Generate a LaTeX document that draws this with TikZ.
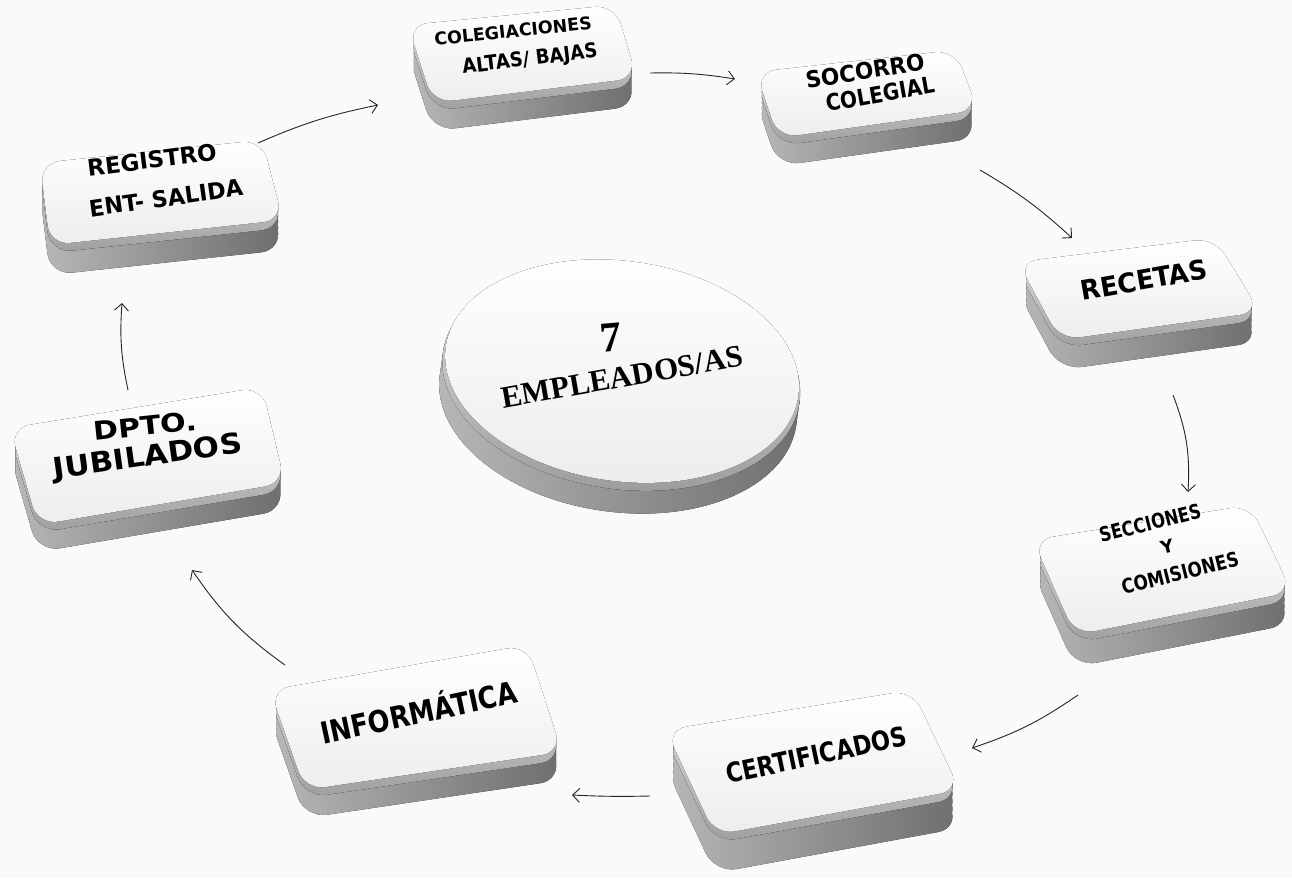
\documentclass[tikz,border=0pt]{standalone}
\usepackage{fontspec}
\usepackage{graphicx}
\usetikzlibrary{calc,arrows.meta}
\newfontfamily\kfont{DejaVu Sans}
\newfontfamily\efont{Liberation Serif}
\tikzset{
  sideshade/.style={left color=black!28, middle color=black!60, right color=black!57},
  rimshade/.style={top color=black!10, bottom color=black!38},
  faceshade/.style={top color=white, bottom color=black!7},
  klabel/.style={inner sep=0pt, text=black},
  arr/.style={-{Straight Barb[length=7pt,width=14pt]}, line width=0.9pt, black!85},
}
\newcommand\kt[3]{\resizebox{#1pt}{#2pt}{\kfont\bfseries #3}}
\newcommand\kface[1]{($(kTL)+(0,#1)$) -- ($(kTR)+(0,#1)$) -- ($(kBR)+(0,#1)$) -- ($(kBL)+(0,#1)$) -- cycle}
\newcommand\keybox[5]{%
  \coordinate (kTL) at (#1); \coordinate (kTR) at (#2);
  \coordinate (kBR) at (#3); \coordinate (kBL) at (#4);
  \fill[sideshade, rounded corners=22pt]
    \kface{#5} \kface{0.8*#5} \kface{0.6*#5} \kface{0.4*#5} \kface{0.2*#5};
  \fill[rimshade, rounded corners=22pt] \kface{8};
  \fill[faceshade, rounded corners=20pt] \kface{0};
}
\begin{document}
\begin{tikzpicture}[x=1pt,y=-1pt]
\useasboundingbox (0,0) rectangle (1292,878);
\fill[black!2] (0,0) rectangle (1292,878);

% central disc
\begin{scope}[rotate around={-8:(620,386)}]
  \fill[sideshade] (620,400) ellipse [x radius=180pt, y radius=112pt]
                   (620,393) ellipse [x radius=180pt, y radius=112pt]
                   (620,386) ellipse [x radius=180pt, y radius=112pt]
                   (620,379) ellipse [x radius=180pt, y radius=112pt];
  \fill[rimshade] (620,377) ellipse [x radius=180pt, y radius=112pt];
  \fill[faceshade] (620,371) ellipse [x radius=178pt, y radius=110pt];
\end{scope}

% key boxes
\keybox{40,163}{262,140}{283,220}{50,245}{30}
\keybox{408,25}{615,5}{637,78}{433,103}{28}
\keybox{756,72}{955,50}{978,110}{778,138}{28}
\keybox{1018,262}{1215,238}{1260,312}{1060,340}{30}
\keybox{1033,540}{1250,505}{1292,592}{1075,635}{32}
\keybox{666,730}{912,690}{960,790}{715,835}{38}
\keybox{270,690}{527,645}{562,752}{305,790}{28}
\keybox{10,428}{262,387}{285,483}{38,525}{27}

% labels
\node[klabel, rotate=7]  (t1a) at (152,160) {\kt{130}{17}{REGISTRO}};
\node[klabel, rotate=8]  (t1b) at (166,198) {\kt{155}{17}{ENT- SALIDA}};
\node[klabel, rotate=6]  (t2a) at (513,31)  {\kt{158}{13}{COLEGIACIONES}};
\node[klabel, rotate=7]  (t2b) at (530,60)  {\kt{136}{15}{ALTAS/ BAJAS}};
\node[klabel, rotate=9]  (t3a) at (865,71)  {\kt{120}{17}{SOCORRO}};
\node[klabel, rotate=10] (t3b) at (880,94)  {\kt{110}{17}{COLEGIAL}};
\node[klabel, rotate=10] (t4)  at (1144,280) {\kt{128}{20}{RECETAS}};
\node[klabel, rotate=14] (t5a) at (1150,523) {\kt{104}{15}{SECCIONES}};
\node[klabel, rotate=14] (t5b) at (1167,547) {\kt{13}{13}{Y}};
\node[klabel, rotate=14] (t5c) at (1180,573) {\kt{120}{15}{COMISIONES}};
\node[klabel, rotate=12] (t6)  at (816,755) {\kt{184}{20}{CERTIFICADOS}};
\node[klabel, rotate=12] (t7)  at (418,710) {\kt{200}{28}{INFORMÁTICA}};
\node[klabel, rotate=6]  (t8a) at (145,426) {\kt{104}{19}{DPTO.}};
\node[klabel, rotate=8]  (t8b) at (148,458) {\kt{190}{21}{JUBILADOS}};
\node[klabel, rotate=5]  (c7)  at (611,338) {\resizebox{!}{28pt}{\efont\bfseries 7}};
\node[klabel, rotate=10] (cE)  at (622,377) {\resizebox{245pt}{!}{\efont\bfseries EMPLEADOS/AS}};

% connectors
\coordinate (a1s) at (258,143); \coordinate (a1e) at (378,105);
\coordinate (a2s) at (650,73);  \coordinate (a2e) at (735,79);
\coordinate (a3s) at (980,170); \coordinate (a3e) at (1072,238);
\coordinate (a4s) at (1173,395); \coordinate (a4e) at (1188,492);
\coordinate (a5s) at (1078,695); \coordinate (a5e) at (972,748);
\coordinate (a6s) at (650,796); \coordinate (a6e) at (572,795);
\coordinate (a7s) at (285,665); \coordinate (a7e) at (192,570);
\coordinate (a8s) at (128,390); \coordinate (a8e) at (122,303);
\draw[arr] (a1s) to[bend left=6] (a1e);
\draw[arr] (a2s) to[bend left=5] (a2e);
\draw[arr] (a3s) to[bend left=6] (a3e);
\draw[arr] (a4s) to[bend left=12] (a4e);
\draw[arr] (a5s) to[bend left=8] (a5e);
\draw[arr] (a6s) to[bend left=2] (a6e);
\draw[arr] (a7s) to[bend left=10] (a7e);
\draw[arr] (a8s) to[bend left=8] (a8e);
\end{tikzpicture}
\end{document}
